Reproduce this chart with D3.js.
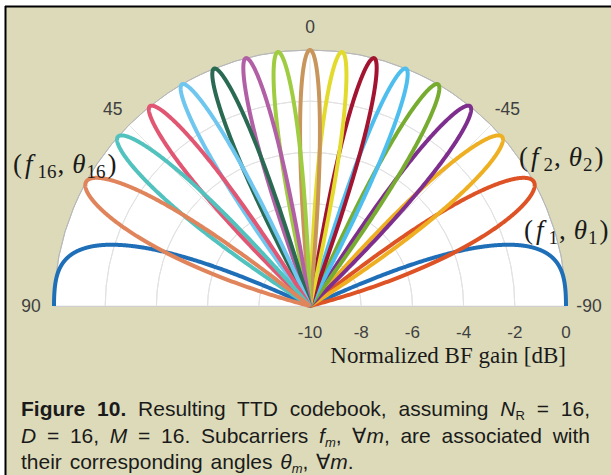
<!DOCTYPE html>
<html>
<head>
<meta charset="utf-8">
<script src="https://cdn.jsdelivr.net/npm/d3@7"></script>
<style>
  body { margin: 0; background: #fff; }
  #wrap { position: relative; width: 611px; height: 475px; overflow: hidden; }
  #caption { position: absolute; left: 21px; top: 396px; width: 569px;
    font-family: "Liberation Sans", Arial, sans-serif; font-size: 21px; color: #1a1a1a; line-height: 26.5px; }
  #caption div { text-align: justify; text-align-last: justify; white-space: nowrap; }
  #caption div.last { text-align-last: left; word-spacing: 2px; }
  #caption sub { font-size: 13px; vertical-align: -4px; line-height: 0; }
</style>
</head>
<body>
<div id="wrap"></div>
<script>
// chart values
var gainTicks = [-10, -8, -6, -4, -2, 0];
var angleTicks = [90, 45, 0, -45, -90];
var beamAngles = [-90, -61.0, -48.6, -38.7, -30.0, -22.0, -14.5, -7.2, 0,
                  7.2, 14.5, 22.0, 30.0, 38.7, 48.6, 61.0];
var beamColors = ["#1f6fb8", "#dd5325", "#eeb022", "#7e2f8e", "#77ac30", "#4dbeee", "#a2142f", "#e2db2e",
                  "#c8955a", "#9fcc40", "#b260a6", "#2a6a52", "#6fc6ef", "#e15672", "#52c2bf", "#e0845c"];
var numAntennas = 16;

var svgWidth = 611, svgHeight = 475;
var cx = 310, cy = 306, R = 256;

var wrap = d3.select("#wrap");
var svg = wrap.append("svg")
  .attr("width", svgWidth)
  .attr("height", svgHeight)
  .style("position", "absolute").style("left", 0).style("top", 0);

// background frame
svg.append("rect").attr("x", 6).attr("y", 7).attr("width", svgWidth).attr("height", svgHeight)
  .attr("fill", "#dcdab9");
svg.append("line").attr("x1", 5).attr("x2", svgWidth).attr("y1", 6.5).attr("y2", 6.5)
  .attr("stroke", "#000").attr("stroke-width", 2);
svg.append("line").attr("x1", 5.5).attr("x2", 5.5).attr("y1", 6).attr("y2", svgHeight)
  .attr("stroke", "#000").attr("stroke-width", 2);

var rScale = d3.scaleLinear().domain([-10, 0]).range([0, R]).clamp(true);
var toRad = d => -d * Math.PI / 180;   // theta grows counter-clockwise from the top

var chart = svg.append("g").attr("transform", `translate(${cx}, ${cy})`);

// white half disc
var half = d3.arc().innerRadius(0).outerRadius(R).startAngle(-Math.PI / 2).endAngle(Math.PI / 2);
chart.append("path").attr("d", half()).attr("fill", "#fff");

// grid
gainTicks.slice(1, -1).forEach(function(v) {
  chart.append("path")
    .attr("d", d3.arc().innerRadius(rScale(v)).outerRadius(rScale(v)).startAngle(-Math.PI / 2).endAngle(Math.PI / 2)())
    .attr("fill", "none").attr("stroke", "#e2e2e2").attr("stroke-width", 1);
});
angleTicks.forEach(function(a) {
  var t = toRad(a);
  chart.append("line").attr("x1", 0).attr("y1", 0)
    .attr("x2", R * Math.sin(t)).attr("y2", -R * Math.cos(t))
    .attr("stroke", "#e6e6e6").attr("stroke-width", 1);
});
chart.append("path")
  .attr("d", d3.arc().innerRadius(R).outerRadius(R).startAngle(-Math.PI / 2).endAngle(Math.PI / 2)())
  .attr("fill", "none").attr("stroke", "#b8b8b8").attr("stroke-width", 1);
chart.append("line").attr("x1", -R).attr("x2", R).attr("y1", 0.5).attr("y2", 0.5)
  .attr("stroke", "#cfcfcf").attr("stroke-width", 1);

// array gain of an N-element ULA steered to theta_m, in dB
function gainDb(theta, thetaM) {
  var psi = Math.PI * (Math.sin(theta * Math.PI / 180) - Math.sin(thetaM * Math.PI / 180));
  var den = numAntennas * Math.sin(psi / 2);
  var af = Math.abs(den) < 1e-9 ? 1 : Math.sin(numAntennas * psi / 2) / den;
  return 20 * Math.log10(Math.max(Math.abs(af), 1e-6));
}

var thetas = d3.range(-90, 90.001, 0.05);
var radial = d3.lineRadial()
  .angle(d => toRad(d.theta))
  .radius(d => rScale(d.g));

beamAngles.forEach(function(thM, i) {
  var pts = thetas.map(t => ({ theta: t, g: gainDb(t, thM) }));
  chart.append("path")
    .attr("d", radial(pts))
    .attr("fill", "none")
    .attr("stroke", beamColors[i])
    .attr("stroke-width", 4)
    .attr("stroke-linejoin", "round");
});

// angle labels
angleTicks.forEach(function(a) {
  var t = toRad(a), r = R + 23;
  chart.append("text")
    .attr("x", r * Math.sin(t)).attr("y", -r * Math.cos(t))
    .attr("text-anchor", "middle").attr("dominant-baseline", "central")
    .attr("font-family", "Liberation Sans, Arial, sans-serif").attr("font-size", 17.5)
    .attr("fill", "#404040")
    .text(a);
});

// radial tick labels
gainTicks.forEach(function(v) {
  chart.append("text")
    .attr("x", rScale(v)).attr("y", 31.5)
    .attr("text-anchor", "middle")
    .attr("font-family", "Liberation Sans, Arial, sans-serif").attr("font-size", 17)
    .attr("fill", "#404040")
    .text(v);
});
svg.append("text")
  .attr("x", 566).attr("y", 363)
  .attr("text-anchor", "end")
  .attr("font-family", "Liberation Serif, Times New Roman, serif").attr("font-size", 23)
  .attr("fill", "#1a1a1a")
  .text("Normalized BF gain [dB]");

// (f_m, theta_m) labels
function mathLabel(x, y, sub) {
  var t = svg.append("text").attr("x", x).attr("y", y)
    .attr("font-family", "Liberation Serif, Times New Roman, serif").attr("font-size", 27)
    .attr("fill", "#1a1a1a");
  t.append("tspan").text("(");
  t.append("tspan").attr("font-style", "italic").attr("dx", 3).text("f");
  t.append("tspan").attr("font-size", 19).attr("dy", 5).attr("dx", 5).text(sub);
  t.append("tspan").attr("dy", -5).attr("dx", 1).text(",");
  t.append("tspan").attr("font-style", "italic").attr("dx", 8).text("θ");
  t.append("tspan").attr("font-size", 19).attr("dy", 5).attr("dx", 1).text(sub);
  t.append("tspan").attr("dy", -5).attr("dx", 2).text(")");
}
mathLabel(13, 173, "16");
mathLabel(519, 166, "2");
mathLabel(524, 239, "1");

// caption
var cap = wrap.append("div").attr("id", "caption");
cap.append("div").html('<b>Figure 10.</b> Resulting TTD codebook, assuming <i>N</i><sub>R</sub> = 16,');
cap.append("div").html('<i>D</i> = 16, <i>M</i> = 16. Subcarriers <i>f<sub>m</sub></i>, ∀<i>m</i>, are associated with');
cap.append("div").attr("class", "last").html('their corresponding angles <i>θ<sub>m</sub></i>, ∀<i>m</i>.');
</script>
</body>
</html>
